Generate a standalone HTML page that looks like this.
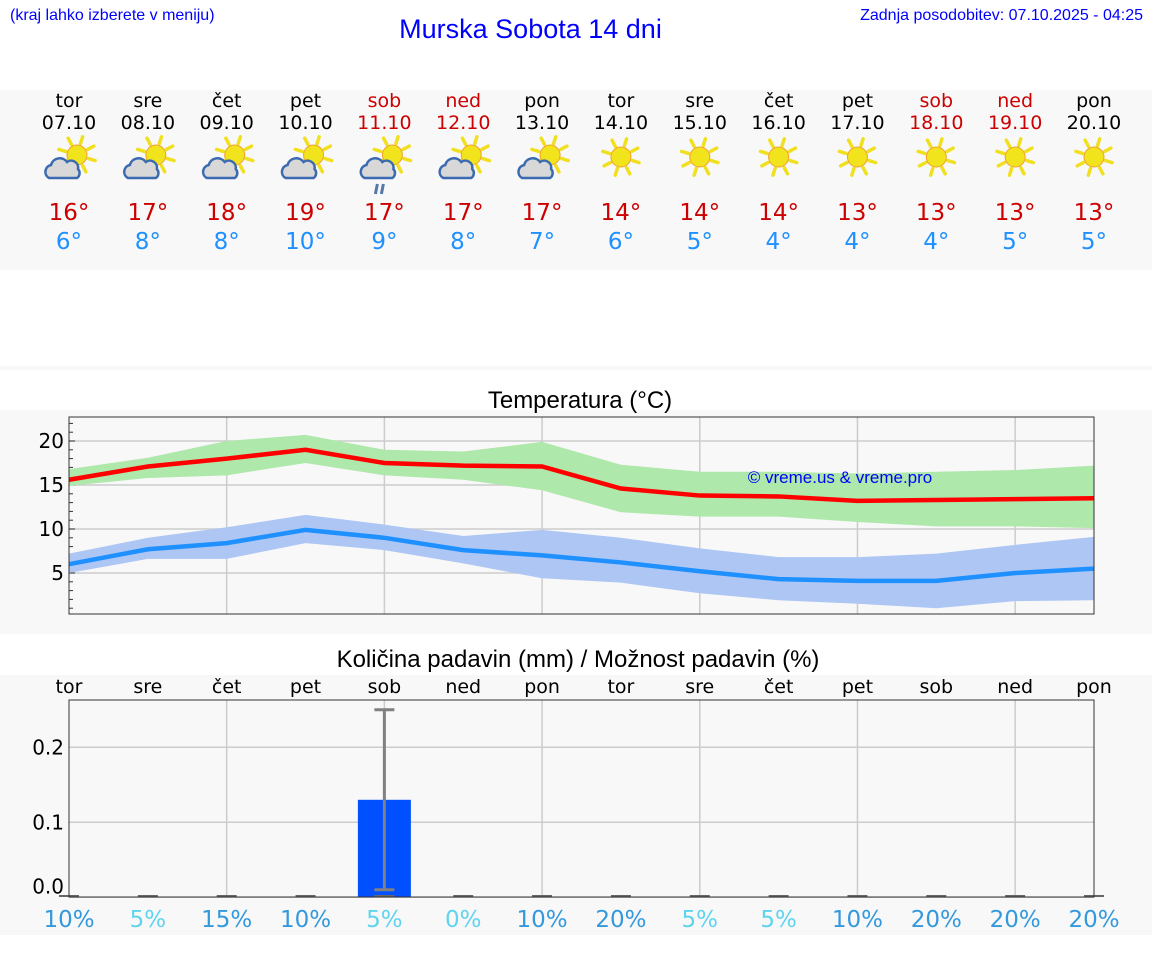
<!DOCTYPE html>
<html><head><meta charset="utf-8"><style>
body{margin:0;width:1152px;height:975px;background:#fff;font-family:"DejaVu Sans","Liberation Sans",sans-serif;position:relative;overflow:hidden}
.abs{position:absolute}
</style></head><body>
<div class="abs" style="left:10px;top:7px;font-size:16px;color:#0000ff;font-family:'Liberation Sans',sans-serif">(kraj lahko izberete v meniju)</div>
<div class="abs" style="left:0;width:1061px;top:14px;text-align:center;font-size:27px;color:#0000ff;font-family:'Liberation Sans',sans-serif">Murska Sobota 14 dni</div>
<div class="abs" style="right:9px;top:7px;font-size:16px;color:#0000ff;font-family:'Liberation Sans',sans-serif">Zadnja posodobitev: 07.10.2025 - 04:25</div>
<svg id="s" class="abs" style="left:0;top:0" width="1152" height="975"></svg>
<script>
const days=["tor","sre","čet","pet","sob","ned","pon","tor","sre","čet","pet","sob","ned","pon"];
const dates=["07.10","08.10","09.10","10.10","11.10","12.10","13.10","14.10","15.10","16.10","17.10","18.10","19.10","20.10"];
const weekend=[0,0,0,0,1,1,0,0,0,0,0,1,1,0];
const icons=["pc","pc","pc","pc","rain","pc","pc","sun","sun","sun","sun","sun","sun","sun"];
const tmax=[16,17,18,19,17,17,17,14,14,14,13,13,13,13];
const tmin=[6,8,8,10,9,8,7,6,5,4,4,4,5,5];
const maxLine=[15.6,17.1,18.0,19.0,17.5,17.2,17.1,14.6,13.8,13.7,13.2,13.3,13.4,13.5];
const maxHi=[16.8,18.1,20.0,20.7,19.0,18.8,19.9,17.3,16.5,16.5,16.3,16.5,16.7,17.2];
const maxLo=[14.9,15.8,16.1,17.5,16.1,15.6,14.4,11.9,11.4,11.4,10.8,10.3,10.3,10.1];
const minLine=[6.0,7.7,8.4,9.9,9.0,7.6,7.0,6.2,5.2,4.3,4.1,4.1,5.0,5.5];
const minHi=[7.2,9.0,10.2,11.6,10.5,9.2,9.9,9.0,7.8,6.8,6.8,7.2,8.2,9.1];
const minLo=[5.0,6.6,6.6,8.4,7.6,6.1,4.4,3.9,2.7,1.9,1.5,1.0,1.8,1.9];
const precip=[0,0,0,0,0.13,0,0,0,0,0,0,0,0,0];
const precipHi=[0,0,0,0,0.25,0,0,0,0,0,0,0,0,0];
const precipLo=[0,0,0,0,0.01,0,0,0,0,0,0,0,0,0];
const chance=[10,5,15,10,5,0,10,20,5,5,10,20,20,20];
const tTicks=[5,10,15,20];
const pTicks=[0.0,0.1,0.2];

const NS="http://www.w3.org/2000/svg",S=document.getElementById('s');
function mk(t,a,p){const e=document.createElementNS(NS,t);for(const k in a)e.setAttribute(k,a[k]);(p||S).appendChild(e);return e;}
const X0=69,X1=1094,dx=(X1-X0)/13;
const xd=i=>X0+i*dx;
const yt=v=>573-(v-5)*8.8;
const yp=v=>897.3-v*750;
[[90,180],[366,4],[410,224],[675,260]].forEach(b=>mk('rect',{x:0,y:b[0],width:1152,height:b[1],fill:'#f8f8f8'}));
function sun(g,cx,cy,r){for(let k=0;k<8;k++){const a=k*Math.PI/4+0.3;mk('line',{x1:cx+Math.cos(a)*(r+2),y1:cy+Math.sin(a)*(r+2),x2:cx+Math.cos(a)*(r+9),y2:cy+Math.sin(a)*(r+9),stroke:'#f0e020','stroke-width':3.5,'stroke-linecap':'round'},g);}
mk('circle',{cx,cy,r,fill:'#f2e41c',stroke:'#f0a030','stroke-width':1},g);}
days.forEach((d,i)=>{
 const x=xd(i),c=weekend[i]?'#cc0000':'#000';
 let t=mk('text',{x,y:107,'text-anchor':'middle','font-size':19,fill:c});t.textContent=d;
 
 t=mk('text',{x,y:129,'text-anchor':'middle','font-size':19,fill:c});t.textContent=dates[i];
 
 const g=mk('g',{});
 if(icons[i]==='sun'){sun(g,x,157,10);}else{sun(g,x+8,155,10);
  mk('path',{d:`M${x-20} ${178} a7 7 0 0 1 2 -13 a9 9 0 0 1 16 -3 a7 7 0 0 1 11 7 a6 6 0 0 1 -1 9 z`,fill:'#d8d8d8',stroke:'#3a6ab0','stroke-width':2.5},g);
  if(icons[i]==='rain'){mk('path',{d:`M${x-9} 194 l2 -10 M${x-3} 194 l2 -10`,stroke:'#5577aa','stroke-width':3},g);}}
 t=mk('text',{x,y:220,'text-anchor':'middle','font-size':23,fill:'#cc0000'});t.textContent=tmax[i]+'°';
 
 t=mk('text',{x,y:249,'text-anchor':'middle','font-size':23,fill:'#1e90ff'});t.textContent=tmin[i]+'°';
 
});
let t=mk('text',{x:580,y:408,'text-anchor':'middle','font-size':24,fill:'#000','font-family':'Liberation Sans'});t.textContent='Temperatura (°C)';

mk('rect',{x:X0,y:417,width:X1-X0,height:197,fill:'#f8f8f8'});
tTicks.forEach(v=>{mk('line',{x1:X0,x2:X1,y1:yt(v),y2:yt(v),stroke:'#ccc','stroke-width':1.5});
 const l=mk('text',{x:64,y:yt(v)+7,'text-anchor':'end','font-size':20,fill:'#000'});l.textContent=v;
 });
for(let v=1;v<=22;v++)mk('line',{x1:X0,x2:X0+(v%5?4:6),y1:yt(v),y2:yt(v),stroke:'#333'});
for(let i=2;i<13;i+=2)mk('line',{x1:xd(i),x2:xd(i),y1:417,y2:614,stroke:'#ccc','stroke-width':1.5});
function band(hi,lo,fill,name){const p=hi.map((v,i)=>xd(i)+','+yt(v)).concat(lo.map((v,i)=>xd(i)+','+yt(v)).reverse());
 const e=mk('polygon',{points:p.join(' '),fill,opacity:1});}
function line(a,c,name){const e=mk('polyline',{points:a.map((v,i)=>xd(i)+','+yt(v)).join(' '),fill:'none',stroke:c,'stroke-width':4.5});
 }
band(maxHi,maxLo,'#aee8aa','max-temp-range');band(minHi,minLo,'#adc6f4','min-temp-range');
line(maxLine,'#ff0000','max-temp-line');line(minLine,'#1e90ff','min-temp-line');
t=mk('text',{x:840,y:483,'text-anchor':'middle','font-size':17,fill:'#0000ff','font-family':'Liberation Sans'});t.textContent='© vreme.us & vreme.pro';

mk('rect',{x:X0,y:417,width:X1-X0,height:197,fill:'none',stroke:'#333','stroke-width':1});
t=mk('text',{x:578,y:667,'text-anchor':'middle','font-size':24,fill:'#000','font-family':'Liberation Sans'});t.textContent='Količina padavin (mm) / Možnost padavin (%)';

days.forEach((d,i)=>{const l=mk('text',{x:xd(i),y:693,'text-anchor':'middle','font-size':19,fill:'#000'});l.textContent=d;
 });
mk('rect',{x:X0,y:700,width:X1-X0,height:197,fill:'#f8f8f8'});
pTicks.forEach(v=>{mk('line',{x1:X0,x2:X1,y1:yp(v),y2:yp(v),stroke:'#ccc','stroke-width':1.5});
 const l=mk('text',{x:64,y:v===0?yp(v)-4:yp(v)+7,'text-anchor':'end','font-size':20,fill:'#000'});l.textContent=v.toFixed(1);
 });
for(let i=2;i<13;i+=2)mk('line',{x1:xd(i),x2:xd(i),y1:700,y2:897,stroke:'#ccc','stroke-width':1.5});
precip.forEach((v,i)=>{
 const b=mk('rect',{x:xd(i)-26.5,y:yp(v),width:53,height:Math.max(0,yp(0)-yp(v)),fill:'#0050ff'});
 
 mk('line',{x1:xd(i)-10,x2:xd(i)+10,y1:896,y2:896,stroke:'#666','stroke-width':2});
 if(precipHi[i]>0){const g=mk('g',{stroke:'#808080','stroke-width':3});
  mk('line',{x1:xd(i),x2:xd(i),y1:yp(precipHi[i]),y2:yp(precipLo[i])},g);
  mk('line',{x1:xd(i)-10,x2:xd(i)+10,y1:yp(precipHi[i]),y2:yp(precipHi[i])},g);
  mk('line',{x1:xd(i)-10,x2:xd(i)+10,y1:yp(precipLo[i]),y2:yp(precipLo[i])},g);}
 const l=mk('text',{x:xd(i),y:927,'text-anchor':'middle','font-size':23,fill:chance[i]>=10?'#3399dd':'#5fd4ee'});l.textContent=chance[i]+'%';
 
});
mk('rect',{x:X0,y:700,width:X1-X0,height:197,fill:'none',stroke:'#333','stroke-width':1});
</script>
</body></html>
